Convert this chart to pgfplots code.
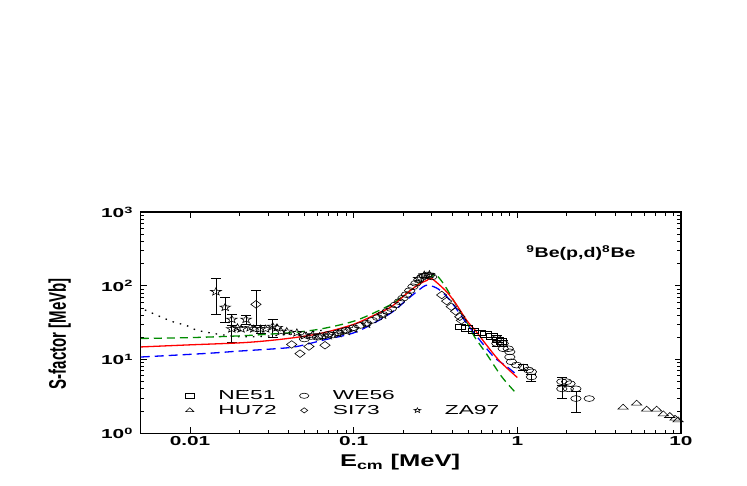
\documentclass[border=0pt]{standalone}
\usepackage{fontspec}
\setmainfont{Liberation Sans}
\usepackage{graphicx}
\usepackage{pgfplots}
\pgfplotsset{compat=1.18}

% the source figure is stretched sideways, so text is too
\newcommand{\sx}[1]{\scalebox{1.6}[1]{#1}}

% open five-pointed star
\pgfdeclareplotmark{ostar}{%
  \pgfpathmoveto{\pgfpointpolar{90}{\pgfplotmarksize}}%
  \pgfpathlineto{\pgfpointpolar{126}{0.42\pgfplotmarksize}}%
  \pgfpathlineto{\pgfpointpolar{162}{\pgfplotmarksize}}%
  \pgfpathlineto{\pgfpointpolar{198}{0.42\pgfplotmarksize}}%
  \pgfpathlineto{\pgfpointpolar{234}{\pgfplotmarksize}}%
  \pgfpathlineto{\pgfpointpolar{270}{0.42\pgfplotmarksize}}%
  \pgfpathlineto{\pgfpointpolar{306}{\pgfplotmarksize}}%
  \pgfpathlineto{\pgfpointpolar{342}{0.42\pgfplotmarksize}}%
  \pgfpathlineto{\pgfpointpolar{18}{\pgfplotmarksize}}%
  \pgfpathlineto{\pgfpointpolar{54}{0.42\pgfplotmarksize}}%
  \pgfpathclose\pgfusepathqstroke}

\definecolor{cgreen}{RGB}{0,140,0}
\definecolor{cblue}{RGB}{0,0,255}
\definecolor{cred}{RGB}{255,0,0}

\pgfplotsset{
  dat/.style={only marks, black, line width=0.6pt, mark size=2.9pt,
    mark options={xscale=1.8, solid, fill=none},
    legend image code/.code={\draw[##1, mark size=2.6pt] plot coordinates {(0cm,0cm)};}},
  eb/.style={forget plot, error bars/.cd, y dir=both, y explicit,
    error bar style={line width=0.6pt, black},
    error mark options={rotate=90, mark size=5pt, line width=0.6pt, black}},
}

\begin{document}
\begin{tikzpicture}
\begin{axis}[
  scale only axis, width=540pt, height=221pt,
  xmode=log, ymode=log,
  xmin=0.005, xmax=10, ymin=1, ymax=1000,
  axis line style={line width=1.2pt},
  every tick/.style={black, line width=0.8pt},
  major tick length=6pt, minor tick length=3.5pt,
  xtick={0.01,0.1,1,10},
  xticklabels={\sx{0.01},\sx{0.1},\sx{1},\sx{10}},
  ytick={1,10,100,1000},
  yticklabels={\sx{10\textsuperscript{0}},\sx{10\textsuperscript{1}},\sx{10\textsuperscript{2}},\sx{10\textsuperscript{3}}},
  tick label style={font=\fontsize{13}{13}\selectfont\bfseries},
  yticklabel style={xshift=-4pt},
  xlabel={\scalebox{1.5}[1]{E\textsubscript{cm} [MeV]}},
  xlabel style={at={(axis description cs:0.48,0)}, anchor=center, yshift=-29pt,
    font=\fontsize{17}{17}\selectfont\bfseries},
  ylabel={\scalebox{1}[1.6]{S-factor [MeVb]}},
  ylabel style={at={(axis description cs:-0.15,0.45)}, anchor=center,
    font=\fontsize{15}{15}\selectfont\bfseries},
  legend columns=3,
  legend style={at={(axis description cs:0.0762,0.203)}, anchor=north west,
    draw=none, fill=none, font=\fontsize{13}{13}\selectfont,
    nodes={inner sep=0pt}, row sep=4pt,
    /tikz/every odd column/.append style={column sep=24pt}},
]
% NE51
\addplot[dat, mark=square] coordinates {
  (0.447,27.7)(0.49,26.3)(0.54,24.5)(0.59,23)(0.64,22)(0.70,20.5)(0.76,18.5)(0.80,17.5)
};
\addlegendentry{\makebox[81pt][l]{\scalebox{1.75}[1]{NE51}}}
% WE56
\addplot[dat, mark=o] coordinates {
  (0.05,19)(0.055,20.5)(0.06,20)(0.065,21)(0.07,22)(0.075,21.5)(0.08,23)(0.085,24)
  (0.09,25)(0.10,27)(0.11,29)(0.12,31)(0.13,34)(0.14,37)(0.15,41)(0.16,45)
  (0.17,49)(0.18,55)(0.19,61)(0.20,68)(0.21,76)(0.22,86)(0.23,97)(0.24,108)
  (0.25,120)(0.26,130)(0.27,136)(0.28,140)(0.29,138)(0.30,132)
  (0.82,14)(0.88,14)(0.90,12.7)(0.90,10.8)(0.92,9.3)(0.99,8.4)
  (1.17,7.2)(1.22,6.8)(2.0,5.0)(2.1,4.7)(2.05,4.0)(2.28,4.0)(2.75,2.95)
};
\addlegendentry{\makebox[81pt][l]{\scalebox{1.75}[1]{WE56}}}
\addlegendimage{empty legend}
\addlegendentry{}
% HU72
\addplot[dat, mark=triangle, mark size=3.3pt] coordinates {
  (4.43,2.23)(5.36,2.53)(6.17,2.1)(7.1,2.1)(7.8,1.81)(8.55,1.72)(9.2,1.58)(9.6,1.5)
};
\addlegendentry{\makebox[81pt][l]{\scalebox{1.75}[1]{HU72}}}
% SI73
\addplot[dat, mark=diamond, mark size=3.8pt] coordinates {
  (0.0418,16)(0.047,12)(0.0533,15)(0.0668,15.6)
  (0.345,75)(0.37,62)(0.395,52)(0.42,45)(0.445,38)(0.455,34)
};
\addlegendentry{\makebox[81pt][l]{\scalebox{1.75}[1]{SI73}}}
% ZA97
\addplot[dat, mark=ostar, mark size=4pt, mark options={xscale=1.4}] coordinates {
  (0.0195,27)(0.0205,26)(0.0233,27)(0.0245,26)(0.029,26)(0.034,27)(0.036,24)
  (0.039,24)(0.045,23)(0.05,21)(0.056,21.5)(0.062,20.5)(0.07,21)(0.08,22.5)
  (0.09,24)(0.10,26)(0.12,30)(0.15,40)(0.25,125)(0.27,140)(0.29,142)
};
\addlegendentry{\makebox[81pt][l]{\scalebox{1.75}[1]{ZA97}}}

% points with error bars
\addplot[dat, mark=ostar, mark size=4pt, mark options={xscale=1.4}, eb] coordinates {
  (0.0144,83) += (0,43) -= (0,42)
  (0.0164,51) += (0,18) -= (0,19)
  (0.018,35) += (0,6) -= (0,6)
  (0.018,26) += (0,3) -= (0,9)
  (0.022,35) += (0,5) -= (0,5)
  (0.027,26) += (0,3) -= (0,3)
  (0.032,28) += (0,7) -= (0,8)
};
\addplot[dat, mark=diamond, mark size=3.8pt, eb] coordinates {
  (0.0253,56) += (0,31) -= (0,27)
};
\addplot[dat, mark=o, eb] coordinates {
  (0.75,19.3) += (0,2.2) -= (0,2)
  (0.75,16.5) += (0,1.5) -= (0,1.5)
  (0.82,16.5) += (0,1.5) -= (0,1.5)
  (1.09,7.9) += (0,0.8) -= (0,0.8)
  (1.22,5.8) += (0,0.5) -= (0,0.8)
  (1.87,5.0) += (0,0.8) -= (0,0.6)
  (1.87,4.0) += (0,0.5) -= (0,1.0)
  (2.28,2.95) += (0,0.7) -= (0,1.0)
};

% model curves
\addplot[forget plot, black, line width=1.3pt, dash pattern=on 1.5pt off 6pt, smooth] coordinates {
  (0.0053,47)(0.0077,33)(0.0095,29)(0.011,25)(0.0149,22)(0.0193,20.5)(0.0222,20.3)
  (0.03,20.8)(0.045,22.5)(0.065,25)
};
\addplot[forget plot, cgreen, line width=1.3pt, dash pattern=on 8pt off 5pt, smooth] coordinates {
  (0.005,19.3)(0.01,19.8)(0.02,20.9)(0.03,22)(0.045,23.5)(0.065,26.3)(0.104,34)
  (0.167,55)(0.21,79)(0.266,119)(0.30,135)(0.321,139)(0.36,101)(0.41,62)
  (0.48,35)(0.55,20)(0.65,11.8)(0.80,5.9)(0.97,3.6)
};
\addplot[forget plot, cblue, line width=1.3pt, dash pattern=on 9pt off 5pt, smooth] coordinates {
  (0.005,10.8)(0.0127,12.1)(0.02,13)(0.035,14.1)(0.045,15)(0.065,18.3)(0.104,23.7)
  (0.167,42)(0.21,64)(0.266,97)(0.29,101)(0.33,90)(0.387,64)(0.49,31)
  (0.59,18.3)(0.72,10.8)(0.85,8.2)(0.97,6.5)
};
\addplot[forget plot, cred, line width=1.3pt, smooth] coordinates {
  (0.005,14.8)(0.01,15.8)(0.02,16.8)(0.03,18)(0.045,20)(0.065,23)(0.10,30)
  (0.14,42)(0.17,52)(0.21,78)(0.25,105)(0.28,118)(0.30,125)(0.37,83)
  (0.426,55)(0.49,34)(0.56,24)(0.65,15.6)(0.78,9.5)(1.0,5.7)
};

\node[anchor=west, font=\fontsize{14}{14}\selectfont\bfseries] at (axis cs:1.08,280)
  {\scalebox{1.4}[1]{\textsuperscript{9}Be(p,d)\textsuperscript{8}Be}};
\end{axis}
\path ([xshift=-140.7pt,yshift=-52pt]current axis.south west)
  rectangle ([xshift=66pt,yshift=212pt]current axis.north east);
\end{tikzpicture}
\end{document}
